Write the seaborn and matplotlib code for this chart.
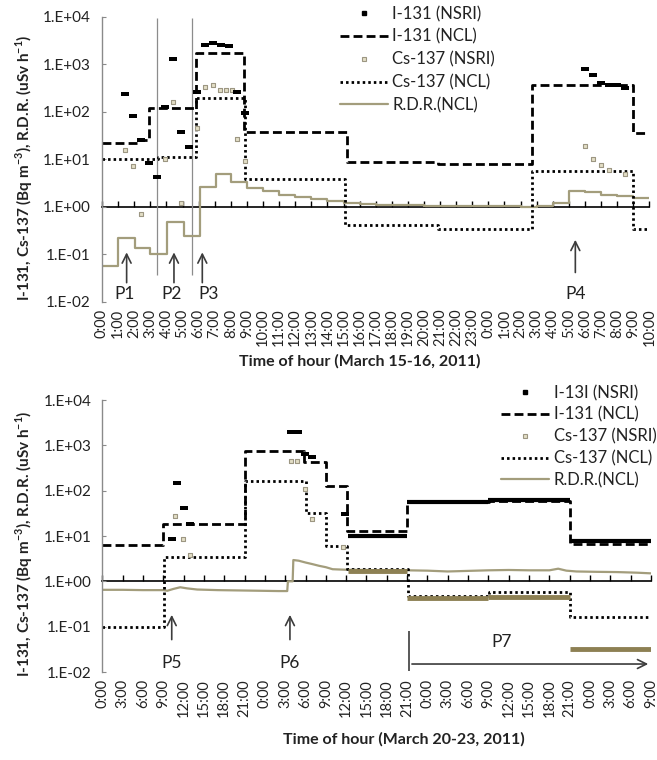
import matplotlib
matplotlib.use('Agg')
import matplotlib.pyplot as plt
from matplotlib.lines import Line2D
from matplotlib.ticker import NullLocator
import seaborn as sns

# Time axis: hours since 0:00 of the first day shown in each panel
# ---------------- Top panel: March 15-16, 2011 ----------------
top_tick_labels = [f'{h}:00' for h in range(24)] + [f'{h}:00' for h in range(11)]

i131_ncl_top_t = [0, 2.25, 2.9, 5.85, 8.85, 15.2, 20.9, 26.7, 33.0, 34]
i131_ncl_top_v = [22, 25, 120, 1700, 38, 8.9, 8.1, 370, 36, 36]

cs137_ncl_top_t = [0, 3.5, 5.85, 8.9, 15.1, 20.9, 26.7, 33.0, 34]
cs137_ncl_top_v = [10, 11.2, 190, 3.8, 0.41, 0.34, 5.7, 0.34, 0.34]

rdr_top_t = [0, 1, 2.05, 3, 4.05, 5.1, 6.1, 7.05, 8, 9, 10, 11, 12, 13, 14, 15, 16,
             17, 18, 19, 20, 21, 22, 23, 24, 25, 26, 27, 28, 29, 30, 31, 32, 33, 34]
rdr_top_v = [0.056, 0.215, 0.133, 0.10, 0.47, 0.245, 2.6, 4.9, 3.26, 2.45, 2.1, 1.8,
             1.6, 1.45, 1.35, 1.22, 1.15, 1.1, 1.08, 1.06, 1.05, 1.04, 1.03, 1.02,
             1.02, 1.02, 1.0, 1.02, 1.2, 2.1, 2.0, 1.8, 1.7, 1.5, 1.5]

i131_nsri_top_t = [1.4, 1.9, 2.4, 2.9, 3.4, 3.9, 4.4, 4.9, 5.4, 5.9, 6.4, 6.9, 7.4,
                   7.9, 8.4, 8.9, 30.0, 30.5, 31.0, 31.5, 32.0, 32.5]
i131_nsri_top_v = [233, 81, 25, 8.4, 4.2, 127, 1260, 38, 18, 265, 2520, 2830, 2520,
                   2400, 265, 93, 810, 580, 405, 363, 360, 320]

cs137_nsri_top_t = [1.4, 1.9, 2.4, 3.9, 4.4, 4.9, 5.9, 6.4, 6.9, 7.3, 7.7, 8.1, 8.4,
                    8.9, 30.0, 30.5, 31.0, 31.5, 32.5]
cs137_nsri_top_v = [15.6, 7.3, 0.7, 10, 162, 1.2, 45, 335, 363, 280, 280, 280, 26,
                    9.3, 19, 10, 7.6, 5.9, 4.9]

# ---------------- Bottom panel: March 20-23, 2011 ----------------
bot_tick_labels = [f'{h}:00' for h in range(0, 24, 3)] * 3 + ['0:00', '3:00', '6:00', '9:00']

i131_ncl_bot_t = [0, 9.0, 21.05, 29.8, 33.0, 36.1, 45.05, 57.1, 69.0, 81]
i131_ncl_bot_v = [6.3, 18, 760, 425, 125, 13, 55, 60, 6.5, 6.5]

cs137_ncl_bot_t = [0, 9.1, 21.05, 30.0, 33.0, 36.1, 45.1, 57.1, 69.0, 81]
cs137_ncl_bot_v = [0.1, 3.4, 160, 32, 6.1, 1.85, 0.48, 0.57, 0.16, 0.16]

rdr_bot_t = [0, 3, 6, 9, 9.6, 10.5, 11.5, 12.5, 14, 17, 20, 23, 26, 27.3, 27.4, 28.1,
             28.2, 29, 30, 31, 32, 33, 34, 36, 39, 42, 45, 48, 51, 54, 57, 60, 63, 66,
             67.3, 68.5, 70, 73, 76, 79, 81]
rdr_bot_v = [0.65, 0.65, 0.64, 0.64, 0.62, 0.68, 0.74, 0.70, 0.66, 0.64, 0.63, 0.62,
             0.61, 0.61, 1.0, 1.0, 2.95, 2.85, 2.6, 2.4, 2.2, 2.05, 1.85, 1.8, 1.78,
             1.75, 1.75, 1.72, 1.65, 1.7, 1.75, 1.78, 1.75, 1.75, 1.9, 1.72, 1.65,
             1.62, 1.6, 1.55, 1.5]

i131_nsri_bot_t = [10.3, 11.0, 12.0, 13.0, 27.9, 28.9, 29.9, 30.9, 35.9]
i131_nsri_bot_v = [8.6, 145, 41, 18, 2000, 2000, 640, 560, 31]
cs137_nsri_bot_t = [10.8, 11.9, 12.9, 27.9, 28.8, 29.9, 30.9, 35.5]
cs137_nsri_bot_v = [27, 8.6, 3.9, 450, 450, 110, 24, 5.8]

# continuous NSRI sampling during P7 (drawn as thick runs)
i131_run_start = [36.3, 45.0, 57.0, 69.0]
i131_run_end = [45.0, 57.0, 69.0, 81.0]
i131_run_v = [10.2, 56, 61, 7.9]
cs137_run_start = [36.3, 45.0, 57.0, 69.0]
cs137_run_end = [45.0, 57.0, 69.0, 81.0]
cs137_run_v = [1.65, 0.43, 0.45, 0.032]

# plume periods
top_arrows = {'P1': 1.53, 'P2': 4.47, 'P3': 6.23, 'P4': 29.4}
bot_arrows = {'P5': 10.25, 'P6': 27.7}

# ---------------- style ----------------
sns.set_theme(style='white')
plt.rcParams['font.family'] = ['Lato', 'DejaVu Sans']
plt.rcParams['mathtext.fontset'] = 'custom'
plt.rcParams['mathtext.rm'] = 'Lato'
plt.rcParams['mathtext.bf'] = 'Lato:bold'

rdr_color = '#a39d7c'
cs_edge = '#9c9682'
cs_face = '#e3dfc6'
run_olive = '#8d8053'
dash_ls = (0, (3.2, 1.5))
dot_ls = (0, (0.9, 1.1))
rect = [(-1.6, -0.7), (1.6, -0.7), (1.6, 0.7), (-1.6, 0.7)]
ylab = r'I-131, Cs-137 (Bq m$^{\mathbf{-3}}$), R.D.R. (uSv h$^{\mathbf{-1}}$)'

fig = plt.figure(figsize=(6.57, 7.6), dpi=100)
ax1 = fig.add_axes([102 / 657, 1 - 301.7 / 760, 547.4 / 657, 285 / 760])
ax2 = fig.add_axes([102.3 / 657, 1 - 672 / 760, 548.7 / 657, 272 / 760])


def base_axes(ax, xmax, ticks, labels):
    ax.set_yscale('log')
    ax.set_ylim(1e-2, 1e4)
    ax.set_xlim(0, xmax)
    ax.set_yticks([1e-2, 1e-1, 1e0, 1e1, 1e2, 1e3, 1e4],
                  ['1.E-02', '1.E-01', '1.E+00', '1.E+01', '1.E+02', '1.E+03', '1.E+04'])
    ax.yaxis.set_minor_locator(NullLocator())
    ax.tick_params(axis='y', left=True, direction='in', length=3, width=0.8,
                   color='#8a8a8a', pad=8, labelsize=11, labelcolor='#222222')
    ax.set_xticks(ticks, labels, rotation=90)
    ax.tick_params(axis='x', bottom=False, length=0, pad=5, labelsize=10.5,
                   labelcolor='#222222')
    for s in ['top', 'right', 'bottom']:
        ax.spines[s].set_visible(False)
    ax.spines['left'].set_color('#8a8a8a')
    ax.spines['left'].set_linewidth(1)
    # the category axis crosses at 1.E+00
    sec = ax.secondary_xaxis(1 / 3)
    sec.set_xticks(ticks)
    sec.tick_params(bottom=True, direction='in', length=4, width=1, color='black',
                    labelbottom=False, labeltop=False)
    sec.spines['bottom'].set_color('black')
    sec.spines['bottom'].set_linewidth(1.2)
    ax.set_ylabel(ylab, fontsize=11, fontweight='bold', color='#222222')
    ax.yaxis.set_label_coords(-0.122, 0.47)


def draw_series(ax, i_t, i_v, c_t, c_v, r_t, r_v, r_steps, ni_t, ni_v, nc_t, nc_v):
    sns.lineplot(x=r_t, y=r_v, ax=ax, color=rdr_color, lw=1.6,
                 drawstyle='steps-post' if r_steps else 'default')
    sns.lineplot(x=c_t, y=c_v, ax=ax, color='black', lw=2, linestyle=dot_ls,
                 drawstyle='steps-post')
    sns.lineplot(x=i_t, y=i_v, ax=ax, color='black', lw=2, linestyle=dash_ls,
                 drawstyle='steps-post')
    sns.scatterplot(x=nc_t, y=nc_v, ax=ax, marker='s', s=11, color=cs_face,
                    edgecolor=cs_edge, linewidth=0.8, zorder=4)
    sns.scatterplot(x=ni_t, y=ni_v, ax=ax, marker=rect, s=26, color='black',
                    linewidth=0, zorder=5)


def add_legend(ax, first_label, x0, y0, spacing):
    handles = [
        Line2D([], [], ls='none', marker='s', ms=2.6, color='black'),
        Line2D([], [], color='black', lw=2, ls=dash_ls),
        Line2D([], [], ls='none', marker='s', ms=3.2, mfc=cs_face, mec=cs_edge, mew=0.8),
        Line2D([], [], color='black', lw=2, ls=dot_ls),
        Line2D([], [], color=rdr_color, lw=1.6),
    ]
    labels = [first_label, 'I-131 (NCL)', 'Cs-137 (NSRI)', 'Cs-137 (NCL)', 'R.D.R.(NCL)']
    ax.legend(handles, labels, loc='upper left', bbox_to_anchor=(x0 / 657, 1 - y0 / 760),
              bbox_transform=fig.transFigure, frameon=False, fontsize=12,
              handlelength=2.9, handletextpad=0.25, labelspacing=spacing,
              borderpad=0, borderaxespad=0, labelcolor='#222222')


arrow_kw = dict(arrowstyle='->', color='#3c3c3c', lw=1.2, mutation_scale=16)

# ---------------- top panel ----------------
base_axes(ax1, 34, list(range(35)), top_tick_labels)
draw_series(ax1, i131_ncl_top_t, i131_ncl_top_v, cs137_ncl_top_t, cs137_ncl_top_v,
            rdr_top_t, rdr_top_v, True, i131_nsri_top_t, i131_nsri_top_v,
            cs137_nsri_top_t, cs137_nsri_top_v)
ax1.vlines([3.42, 5.57], 0.036, 9300, color='#8c8c8c', lw=0.9, zorder=1)
for name, x in top_arrows.items():
    tip, tail, lab_y = (0.23, 0.036, 0.0145) if name == 'P4' else (0.125, 0.022, 0.0145)
    ax1.annotate('', xy=(x, tip), xytext=(x, tail), arrowprops=arrow_kw)
    lab_x = {'P1': 1.43, 'P2': 4.3, 'P3': 6.6, 'P4': 29.4}[name]
    ax1.text(lab_x, lab_y, name, ha='center', va='center', fontsize=12.5, color='#222222')
ax1.set_xlabel('Time of hour (March 15-16, 2011)', fontsize=11.5, fontweight='bold',
               color='#222222')
ax1.xaxis.set_label_coords(0.47, -0.185)
add_legend(ax1, 'I-131 (NSRI)', 340, 6, 0.4)

# ---------------- bottom panel ----------------
base_axes(ax2, 81, list(range(0, 82, 3)), bot_tick_labels)
draw_series(ax2, i131_ncl_bot_t, i131_ncl_bot_v, cs137_ncl_bot_t, cs137_ncl_bot_v,
            rdr_bot_t, rdr_bot_v, False, i131_nsri_bot_t, i131_nsri_bot_v,
            cs137_nsri_bot_t, cs137_nsri_bot_v)
ax2.hlines(i131_run_v, i131_run_start, i131_run_end, color='black', lw=3, zorder=3)
ax2.hlines(cs137_run_v, cs137_run_start, cs137_run_end, color=run_olive, lw=3.5, zorder=3)
for name, x in bot_arrows.items():
    ax2.annotate('', xy=(x, 0.21), xytext=(x, 0.045), arrowprops=arrow_kw)
    ax2.text(x, 0.0155, name, ha='center', va='center', fontsize=12.5, color='#222222')
ax2.vlines(45.3, 0.0107, 0.081, color='#3c3c3c', lw=1.2)
ax2.annotate('', xy=(81, 0.015), xytext=(45.3, 0.015), arrowprops=arrow_kw)
ax2.text(59, 0.045, 'P7', ha='center', va='center', fontsize=12.5, color='#222222')
ax2.set_xlabel('Time of hour (March 20-23, 2011)', fontsize=11.5, fontweight='bold',
               color='#222222')
ax2.xaxis.set_label_coords(0.55, -0.22)
ax2.yaxis.set_label_coords(-0.122, 0.47)
add_legend(ax2, 'I-13I (NSRI)', 501, 385, 0.34)

fig.savefig('out.png', dpi=100)
